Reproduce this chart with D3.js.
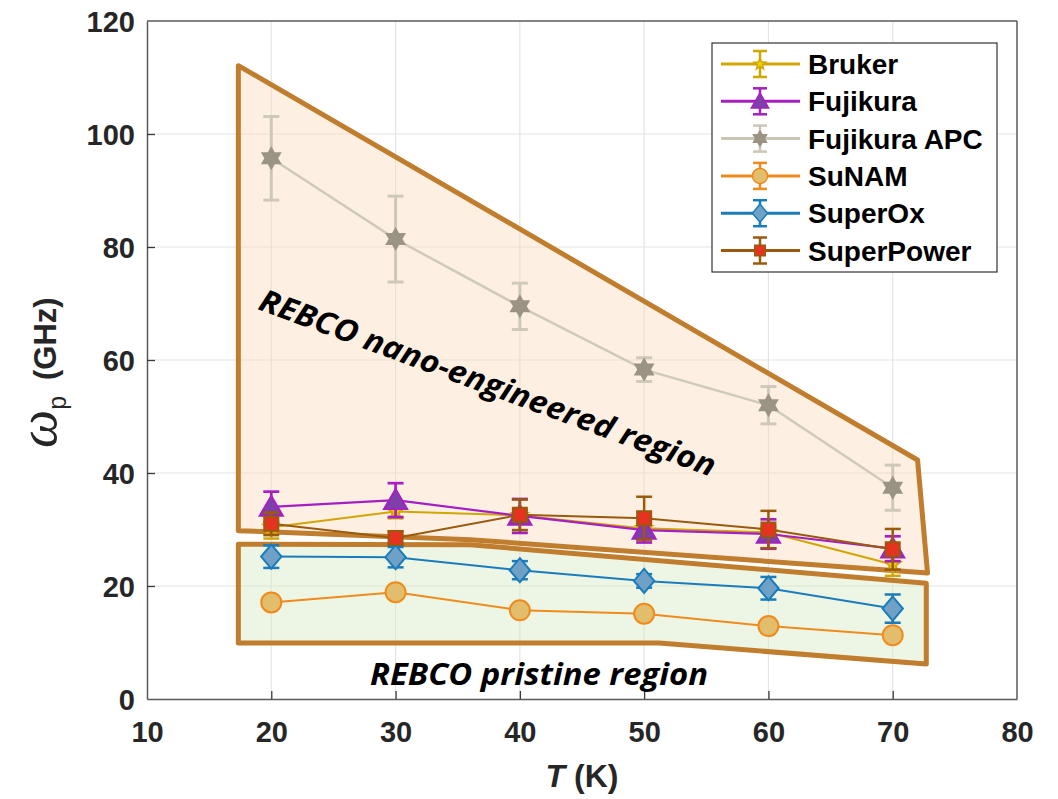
<!DOCTYPE html>
<html>
<head>
<meta charset="utf-8">
<style>
    html, body { margin: 0; padding: 0; background: #ffffff; }
    svg { display: block; }
    .tick text { font-family: "Liberation Sans", Arial, sans-serif; font-weight: bold; fill: #262626; }
    .legend text { font-family: "Liberation Sans", Arial, sans-serif; font-weight: bold; fill: #000000; }
    .note { font-family: "Open Sans", "Noto Sans", sans-serif; font-weight: bold; font-style: italic; fill: #000000; }
</style>
</head>
<body>
<div id="chart"></div>
<script src="https://d3js.org/d3.v7.min.js"></script>
<script>
// ---- data ----
var temps = [20, 30, 40, 50, 60, 70];

var brukerVal = [30.4, 33.2, 32.5, 30.2, 29.5, 23.8];
var brukerErr = [2.0, 1.2, 1.0, 1.0, 1.0, 2.0];
var fujikuraVal = [34.0, 35.2, 32.4, 29.9, 29.2, 26.6];
var fujikuraErr = [2.7, 3.0, 3.0, 2.2, 2.6, 2.2];
var apcVal = [95.7, 81.4, 69.5, 58.3, 52.0, 37.4];
var apcErr = [7.4, 7.6, 4.1, 2.1, 3.3, 4.0];
var sunamVal = [17.1, 18.9, 15.7, 15.1, 12.9, 11.3];
var sunamErr = [0.9, 0.9, 0.9, 0.9, 0.9, 0.9];
var superoxVal = [25.2, 25.1, 22.8, 20.9, 19.6, 16.0];
var superoxErr = [2.0, 1.8, 1.6, 1.2, 2.0, 2.5];
var superpowerVal = [31.0, 28.5, 32.6, 32.0, 30.0, 26.5];
var superpowerErr = [2.0, 1.2, 2.7, 3.8, 3.3, 3.6];

var xTicks = [10, 20, 30, 40, 50, 60, 70, 80];
var yTicks = [0, 20, 40, 60, 80, 100, 120];

// shaded regions (T, omega)
var nanoRegionT = [17.35, 72.0, 72.8, 36.0, 17.35];
var nanoRegionW = [112.1, 42.3, 22.3, 28.2, 29.8];
var pristineRegionT = [17.35, 36.0, 72.7, 72.7, 51.2, 17.35];
var pristineRegionW = [27.4, 27.3, 20.5, 6.2, 9.9, 9.9];

// ---- styling per series ----
var series = [
    { name: "Bruker", val: brukerVal, err: brukerErr, line: "#d2a600", fill: "#f2d400", shape: "pentagram", size: 8, lw: 2 },
    { name: "Fujikura", val: fujikuraVal, err: fujikuraErr, line: "#a51fc2", fill: "#7e3fa9", shape: "triangle", size: 11, lw: 2.2 },
    { name: "Fujikura APC", val: apcVal, err: apcErr, line: "#cbc5b6", fill: "#9b9383", shape: "hexagram", size: 10, lw: 2.5 },
    { name: "SuNAM", val: sunamVal, err: sunamErr, line: "#f08a1c", fill: "#e2bd6c", shape: "circle", size: 10, lw: 2 },
    { name: "SuperOx", val: superoxVal, err: superoxErr, line: "#1a7cbc", fill: "#6fa1c6", shape: "diamond", size: 12, lw: 2 },
    { name: "SuperPower", val: superpowerVal, err: superpowerErr, line: "#9a5a0e", fill: "#e63320", shape: "square", size: 7, lw: 2 }
];

var W = 1058, H = 799;
var x = d3.scaleLinear().domain([10, 80]).range([147, 1017]);
var y = d3.scaleLinear().domain([0, 120]).range([699, 21]);

var svg = d3.select("#chart").append("svg")
    .attr("width", W)
    .attr("height", H);

// grid
svg.append("g").selectAll("line.gx")
    .data(xTicks.slice(1, -1))
    .enter().append("line")
    .attr("x1", d => x(d)).attr("x2", d => x(d))
    .attr("y1", y(0)).attr("y2", y(120))
    .attr("stroke", "#e4e4e4").attr("stroke-width", 1.2);
svg.append("g").selectAll("line.gy")
    .data(yTicks.slice(1, -1))
    .enter().append("line")
    .attr("x1", x(10)).attr("x2", x(80))
    .attr("y1", d => y(d)).attr("y2", d => y(d))
    .attr("stroke", "#e4e4e4").attr("stroke-width", 1.2);

// regions
function regionPoints(ts, ws) {
    return ts.map(function (t, i) { return [x(t), y(ws[i])]; });
}
var poly = d3.line().curve(d3.curveLinearClosed);

svg.append("path")
    .attr("d", poly(regionPoints(nanoRegionT, nanoRegionW)))
    .attr("fill", "#fbdcbc").attr("fill-opacity", 0.42)
    .attr("stroke", "#c07d2d").attr("stroke-width", 5)
    .attr("stroke-linejoin", "round");
svg.append("path")
    .attr("d", poly(regionPoints(pristineRegionT, pristineRegionW)))
    .attr("fill", "#d8ecc4").attr("fill-opacity", 0.45)
    .attr("stroke", "#c07d2d").attr("stroke-width", 5)
    .attr("stroke-linejoin", "round");

// marker shapes
function markerPath(shape, s) {
    if (shape == "circle") return d3.symbol(d3.symbolCircle, Math.PI * s * s)();
    if (shape == "square") return "M" + (-s) + "," + (-s) + "H" + s + "V" + s + "H" + (-s) + "Z";
    if (shape == "diamond") return "M0," + (-s) + "L" + (s * 0.85) + ",0L0," + s + "L" + (-s * 0.85) + ",0Z";
    if (shape == "triangle") return "M0," + (-s) + "L" + (s * 1.05) + "," + (s * 0.8) + "L" + (-s * 1.05) + "," + (s * 0.8) + "Z";
    var n = shape == "hexagram" ? 6 : 5;
    var inner = shape == "hexagram" ? s / Math.sqrt(3) : s * 0.4;
    var pts = [];
    for (var k = 0; k < 2 * n; k++) {
        var a = -Math.PI / 2 + k * Math.PI / n;
        var r = k % 2 == 0 ? s : inner;
        pts.push([r * Math.cos(a), r * Math.sin(a)]);
    }
    return d3.line()(pts) + "Z";
}

var lineGen = d3.line().x(d => x(d.t)).y(d => y(d.v));

// series
series.forEach(function (s) {
    var pts = temps.map(function (t, i) { return { t: t, v: s.val[i], e: s.err[i] }; });
    var g = svg.append("g");
    var op = s.name == "Fujikura APC" ? 0.9 : 1;
    g.append("path")
        .attr("d", lineGen(pts))
        .attr("fill", "none")
        .attr("stroke", s.line)
        .attr("stroke-width", s.lw)
        .attr("opacity", op);
    var eb = g.selectAll(".eb").data(pts).enter().append("g").attr("opacity", op);
    eb.append("line")
        .attr("x1", d => x(d.t)).attr("x2", d => x(d.t))
        .attr("y1", d => y(d.v - d.e)).attr("y2", d => y(d.v + d.e))
        .attr("stroke", s.line).attr("stroke-width", s.lw + 0.5);
    [-1, 1].forEach(function (sg) {
        eb.append("line")
            .attr("x1", d => x(d.t) - 8).attr("x2", d => x(d.t) + 8)
            .attr("y1", d => y(d.v + sg * d.e)).attr("y2", d => y(d.v + sg * d.e))
            .attr("stroke", s.line).attr("stroke-width", s.lw + 0.5);
    });
    g.selectAll(".mk").data(pts).enter().append("path")
        .attr("d", markerPath(s.shape, s.size))
        .attr("transform", d => "translate(" + x(d.t) + "," + y(d.v) + ")")
        .attr("fill", s.fill)
        .attr("stroke", s.name == "Fujikura APC" ? s.fill : s.line)
        .attr("stroke-width", 2);
});

// axes box
var xAxis = d3.axisBottom(x).tickValues(xTicks).tickSizeInner(-8).tickSizeOuter(0).tickPadding(22);
var yAxis = d3.axisLeft(y).tickValues(yTicks).tickSizeInner(-8).tickSizeOuter(0).tickPadding(12);

var gx = svg.append("g").attr("transform", "translate(0," + y(0) + ")").call(xAxis);
var gy = svg.append("g").attr("transform", "translate(" + x(10) + ",0)").call(yAxis);
[gx, gy].forEach(function (g) {
    g.select(".domain").attr("stroke", "#5a5a5a").attr("stroke-width", 1.5);
    g.selectAll(".tick line").attr("stroke", "#3a3a3a").attr("stroke-width", 1.3);
    g.selectAll(".tick text").style("font-size", "29px");
});
gx.selectAll(".tick").filter(d => d == 10 || d == 80).select("line").remove();
gy.selectAll(".tick").filter(d => d == 0 || d == 120).select("line").remove();
gy.selectAll(".tick text").attr("dy", "0.36em");

svg.append("line")
    .attr("x1", x(10)).attr("x2", x(80)).attr("y1", y(120)).attr("y2", y(120))
    .attr("stroke", "#5a5a5a").attr("stroke-width", 1.5);
svg.append("line")
    .attr("x1", x(80)).attr("x2", x(80)).attr("y1", y(0)).attr("y2", y(120))
    .attr("stroke", "#5a5a5a").attr("stroke-width", 1.5);

// axis labels
var xl = svg.append("text")
    .attr("x", (x(10) + x(80)) / 2)
    .attr("y", 787)
    .attr("text-anchor", "middle")
    .style("font-family", "'Liberation Sans', Arial, sans-serif")
    .style("font-weight", "bold")
    .style("font-size", "32px")
    .style("fill", "#262626");
xl.append("tspan").style("font-style", "italic").text("T");
xl.append("tspan").text(" (K)");

var yl = svg.append("text")
    .attr("transform", "translate(56,448) rotate(-90)")
    .attr("text-anchor", "start")
    .style("font-family", "'Liberation Sans', Arial, sans-serif")
    .style("font-weight", "bold")
    .style("fill", "#262626");
yl.append("tspan")
    .style("font-family", "'Liberation Serif', 'DejaVu Serif', serif")
    .style("font-style", "italic")
    .style("font-weight", "normal")
    .style("font-size", "54px")
    .text("ω");
yl.append("tspan")
    .attr("dy", 10)
    .style("font-size", "25px")
    .style("font-weight", "normal")
    .text("p");
yl.append("tspan")
    .attr("dy", -10)
    .attr("dx", 16)
    .style("font-size", "31px")
    .text("(GHz)");

// region notes
svg.append("text")
    .attr("class", "note")
    .attr("transform", "translate(257,309) rotate(20.3)")
    .attr("textLength", 484)
    .attr("lengthAdjust", "spacingAndGlyphs")
    .style("font-size", "31px")
    .text("REBCO nano-engineered region");
svg.append("text")
    .attr("class", "note")
    .attr("x", 370)
    .attr("y", 685)
    .attr("textLength", 338)
    .attr("lengthAdjust", "spacingAndGlyphs")
    .style("font-size", "31px")
    .text("REBCO pristine region");

// legend
var lg = svg.append("g").attr("class", "legend");
lg.append("rect")
    .attr("x", 712).attr("y", 43).attr("width", 285).attr("height", 229)
    .attr("fill", "#ffffff").attr("stroke", "#333333").attr("stroke-width", 1.2);
series.forEach(function (s, i) {
    var cy = 64 + i * 37.3;
    var e = lg.append("g");
    e.append("line").attr("x1", 721).attr("x2", 800).attr("y1", cy).attr("y2", cy)
        .attr("stroke", s.line).attr("stroke-width", 3);
    e.append("line").attr("x1", 760).attr("x2", 760).attr("y1", cy - 13).attr("y2", cy + 13)
        .attr("stroke", s.line).attr("stroke-width", 2.5);
    [-13, 13].forEach(function (o) {
        e.append("line").attr("x1", 753).attr("x2", 767).attr("y1", cy + o).attr("y2", cy + o)
            .attr("stroke", s.line).attr("stroke-width", 2.5);
    });
    e.append("path")
        .attr("d", markerPath(s.shape, s.size * 0.75))
        .attr("transform", "translate(760," + cy + ")")
        .attr("fill", s.fill)
        .attr("stroke", s.name == "Fujikura APC" ? s.fill : s.line)
        .attr("stroke-width", 1.5);
    e.append("text")
        .attr("x", 808).attr("y", cy)
        .attr("dy", "0.36em")
        .style("font-size", "28px")
        .text(s.name);
});
</script>
</body>
</html>
